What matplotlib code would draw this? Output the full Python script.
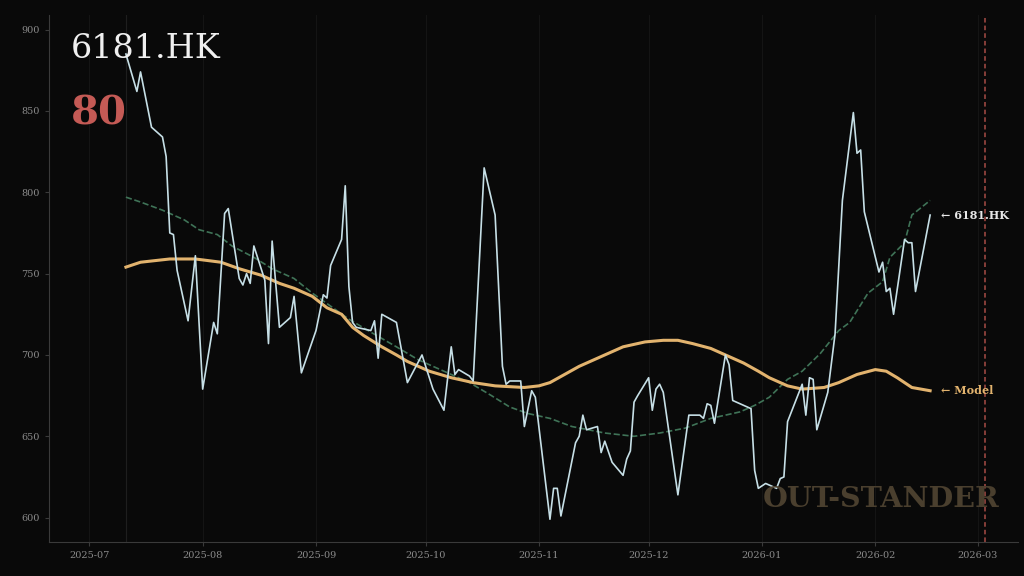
#!/usr/bin/env python3
"""
6181.HK price vs model fair value, dark theme
"""

import numpy as np
import pandas as pd
import matplotlib
matplotlib.use('Agg')
import matplotlib.pyplot as plt
import matplotlib.dates as mdates

TICKER = '6181.HK'
SCORE = '80'

# Daily close
price_dates = [
    '2025-07-11', '2025-07-14', '2025-07-15', '2025-07-18', '2025-07-21', '2025-07-22',
    '2025-07-23', '2025-07-24', '2025-07-25', '2025-07-28', '2025-07-30', '2025-08-01',
    '2025-08-04', '2025-08-05', '2025-08-07', '2025-08-08', '2025-08-11', '2025-08-12',
    '2025-08-13', '2025-08-14', '2025-08-15', '2025-08-16', '2025-08-18', '2025-08-19',
    '2025-08-20', '2025-08-22', '2025-08-25', '2025-08-26', '2025-08-28', '2025-09-01',
    '2025-09-03', '2025-09-04', '2025-09-05', '2025-09-08', '2025-09-09', '2025-09-10',
    '2025-09-11', '2025-09-12', '2025-09-16', '2025-09-17', '2025-09-18', '2025-09-19',
    '2025-09-23', '2025-09-26', '2025-09-30', '2025-10-03', '2025-10-06', '2025-10-08',
    '2025-10-09', '2025-10-10', '2025-10-13', '2025-10-14', '2025-10-17', '2025-10-20',
    '2025-10-22', '2025-10-23', '2025-10-24', '2025-10-27', '2025-10-28', '2025-10-30',
    '2025-10-31', '2025-11-04', '2025-11-05', '2025-11-06', '2025-11-07', '2025-11-11',
    '2025-11-12', '2025-11-13', '2025-11-14', '2025-11-17', '2025-11-18', '2025-11-19',
    '2025-11-21', '2025-11-24', '2025-11-25', '2025-11-26', '2025-11-27', '2025-11-28',
    '2025-12-01', '2025-12-02', '2025-12-03', '2025-12-04', '2025-12-05', '2025-12-09',
    '2025-12-12', '2025-12-15', '2025-12-16', '2025-12-17', '2025-12-18', '2025-12-19',
    '2025-12-22', '2025-12-23', '2025-12-24', '2025-12-29', '2025-12-30', '2025-12-31',
    '2026-01-02', '2026-01-05', '2026-01-06', '2026-01-07', '2026-01-08', '2026-01-12',
    '2026-01-13', '2026-01-14', '2026-01-15', '2026-01-16', '2026-01-19', '2026-01-21',
    '2026-01-23', '2026-01-26', '2026-01-27', '2026-01-28', '2026-01-29', '2026-02-02',
    '2026-02-03', '2026-02-04', '2026-02-05', '2026-02-06', '2026-02-09', '2026-02-10',
    '2026-02-11', '2026-02-12', '2026-02-16',
]
price_values = [
    885, 862, 874, 840, 834, 822,
    775, 774, 752, 721, 761, 679,
    720, 713, 787, 790, 747, 743,
    750, 744, 767, 760, 746, 707,
    770, 717, 723, 736, 689, 715,
    737, 735, 755, 771, 804, 742,
    720, 717, 715, 721, 698, 725,
    720, 683, 700, 679, 666, 705,
    688, 691, 687, 684, 815, 786,
    693, 682, 684, 684, 656, 678,
    674, 599, 618, 618, 601, 646,
    650, 663, 654, 656, 640, 647,
    634, 626, 636, 641, 671, 675,
    686, 666, 679, 682, 677, 614,
    663, 663, 661, 670, 669, 658,
    700, 694, 672, 667, 629, 618,
    621, 618, 624, 625, 659, 682,
    663, 686, 685, 654, 677, 713,
    795, 849, 824, 826, 788, 751,
    757, 739, 741, 725, 771, 769,
    769, 739, 786,
]

# Model curve
model_dates = [
    '2025-07-11', '2025-07-15', '2025-07-23', '2025-07-30', '2025-08-06', '2025-08-11',
    '2025-08-17', '2025-08-22', '2025-08-26', '2025-08-31', '2025-09-04', '2025-09-08',
    '2025-09-11', '2025-09-14', '2025-09-19', '2025-09-23', '2025-09-26', '2025-10-02',
    '2025-10-08', '2025-10-14', '2025-10-20', '2025-10-28', '2025-11-01', '2025-11-04',
    '2025-11-08', '2025-11-12', '2025-11-18', '2025-11-24', '2025-11-30', '2025-12-05',
    '2025-12-09', '2025-12-13', '2025-12-18', '2025-12-22', '2025-12-27', '2025-12-31',
    '2026-01-03', '2026-01-08', '2026-01-12', '2026-01-18', '2026-01-22', '2026-01-27',
    '2026-02-01', '2026-02-04', '2026-02-07', '2026-02-11', '2026-02-16',
]
model_values = [
    754, 757, 759, 759, 757, 753,
    749, 744, 741, 736, 729, 725,
    717, 712, 705, 700, 696, 690,
    686, 683, 681, 680, 681, 683,
    688, 693, 699, 705, 708, 709,
    709, 707, 704, 700, 695, 690,
    686, 681, 679, 680, 683, 688,
    691, 690, 686, 680, 678,
]

# Moving average (dashed green)
ma_dates = [
    '2025-07-11', '2025-07-15', '2025-07-21', '2025-07-27', '2025-07-31', '2025-08-05',
    '2025-08-09', '2025-08-15', '2025-08-20', '2025-08-26', '2025-08-31', '2025-09-05',
    '2025-09-10', '2025-09-16', '2025-09-23', '2025-09-29', '2025-10-05', '2025-10-13',
    '2025-10-19', '2025-10-24', '2025-10-29', '2025-11-04', '2025-11-10', '2025-11-19',
    '2025-11-27', '2025-12-04', '2025-12-11', '2025-12-18', '2025-12-26', '2025-12-30',
    '2026-01-03', '2026-01-08', '2026-01-12', '2026-01-17', '2026-01-22', '2026-01-25',
    '2026-01-30', '2026-02-03', '2026-02-05', '2026-02-09', '2026-02-11', '2026-02-16',
]
ma_values = [
    797, 794, 789, 783, 777, 774,
    767, 760, 753, 747, 738, 730,
    722, 714, 705, 697, 691, 683,
    675, 668, 664, 661, 656, 652,
    650, 652, 655, 661, 665, 669,
    674, 685, 690, 701, 715, 720,
    738, 745, 760, 769, 786, 795,
]

event_date = '2026-03-03'

BG = '#090909'
SERIF = 'DejaVu Serif'


def plot_chart():
    p_dates = pd.to_datetime(price_dates)
    m_dates = pd.to_datetime(model_dates)
    a_dates = pd.to_datetime(ma_dates)

    fig = plt.figure(figsize=(10.24, 5.76), dpi=100, facecolor=BG)
    ax = fig.add_axes([0.048, 0.059, 0.946, 0.915], facecolor=BG)

    # faint month gridlines
    ax.grid(True, axis='x', color='#141414', linewidth=0.8)
    ax.set_axisbelow(True)

    ax.axvline(p_dates[0], color='#1e1e1e', linewidth=0.8)
    ax.axvline(pd.Timestamp(event_date), color='#b8544c', linestyle=(0, (3, 2)),
               linewidth=1.1, alpha=0.9)

    ax.plot(a_dates, ma_values, color='#3f7357', linestyle='--', linewidth=1.2)
    ax.plot(m_dates, model_values, color='#e2b36e', linewidth=2.2)
    ax.plot(p_dates, price_values, color='#c6dfe6', linewidth=1.2)

    # end labels
    off = pd.Timedelta(days=3)
    ax.text(p_dates[-1] + off, price_values[-1], '\u2190 ' + TICKER, color='#e8e8e8',
            fontsize=8, fontweight='bold', family=SERIF, va='center', ha='left')
    ax.text(m_dates[-1] + off, model_values[-1], '\u2190 Model', color='#e2b36e',
            fontsize=8, fontweight='bold', family=SERIF, va='center', ha='left')

    # title block
    ax.text(0.022, 0.966, TICKER, transform=ax.transAxes, color='#f0f0f0',
            fontsize=24, family=SERIF, va='top', ha='left')
    ax.text(0.022, 0.85, SCORE, transform=ax.transAxes, color='#c45a55',
            fontsize=29, fontweight='bold', family=SERIF, va='top', ha='left')

    # watermark
    ax.text(0.981, 0.08, 'OUT-STANDER', transform=ax.transAxes, color='#4a3f2e',
            fontsize=20.5, fontweight='bold', family=SERIF, va='center', ha='right')

    ax.set_xlim(pd.Timestamp('2025-06-20'), pd.Timestamp('2026-03-12'))
    ax.set_ylim(585, 909)
    ax.set_yticks([600, 650, 700, 750, 800, 850, 900])
    ax.xaxis.set_major_locator(mdates.MonthLocator())
    ax.xaxis.set_major_formatter(mdates.DateFormatter('%Y-%m'))

    for side in ['top', 'right']:
        ax.spines[side].set_visible(False)
    for side in ['left', 'bottom']:
        ax.spines[side].set_color('#3a3a3a')
    ax.tick_params(colors='#3a3a3a', labelcolor='#8a8a8a', labelsize=7, length=3)
    for lbl in ax.get_xticklabels() + ax.get_yticklabels():
        lbl.set_family(SERIF)

    plt.savefig('out.png', dpi=100, facecolor=BG)
    plt.close()


def main():
    plot_chart()


if __name__ == '__main__':
    main()
